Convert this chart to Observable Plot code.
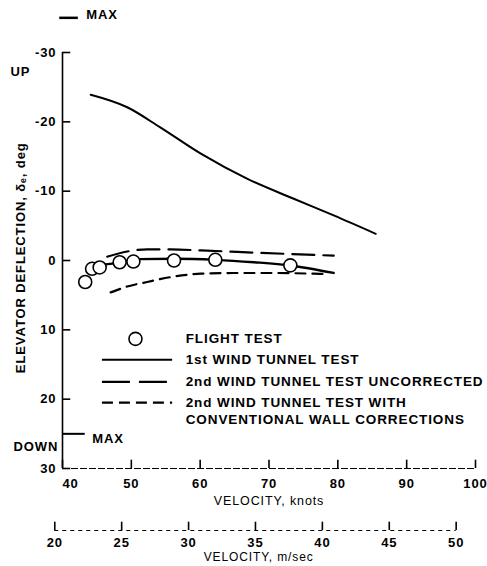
<!DOCTYPE html>
<html>
<head>
<meta charset="utf-8">
<script src="https://cdn.jsdelivr.net/npm/d3@7"></script>
<script src="https://cdn.jsdelivr.net/npm/@observablehq/plot@0.6"></script>
<style>
  html, body { margin: 0; padding: 0; background: white; }
</style>
</head>
<body>
<div id="chart"></div>
<script>
// ---- tick labels ----
const knotsTicks = [40, 50, 60, 70, 80, 90, 100];
const msTicks = [20, 25, 30, 35, 40, 45, 50];
const yTicks = [-30, -20, -10, 0, 10, 20, 30];
const KT_PER_MS = 1.94384;

// ---- series (velocity in knots, elevator deflection in deg; negative = up) ----
const wt1UpperV = [44.1, 49.4, 54.2, 60.1, 66.8, 73.6, 79.4, 85.5];
const wt1UpperD = [-23.9, -22.1, -19.2, -15.4, -11.8, -8.9, -6.5, -3.85];

const wt1LowerV = [45.8, 48.3, 51.3, 56.2, 62.2, 67.8, 73.1, 79.4];
const wt1LowerD = [0.6, 0.3, -0.2, -0.25, -0.1, 0.25, 0.72, 1.8];

const wt2UncV = [46.5, 49.4, 52.3, 55.7, 60.1, 68.8, 79.4];
const wt2UncD = [-0.55, -1.3, -1.6, -1.6, -1.45, -1.1, -0.7];

const wt2CorV = [47.0, 49.4, 52.3, 55.7, 60.1, 65.4, 70.7, 76.5, 78.5];
const wt2CorD = [4.6, 3.75, 3.1, 2.4, 1.9, 1.8, 1.8, 1.9, 1.95];

const flightV = [43.3, 44.3, 45.4, 48.3, 50.3, 56.2, 62.2, 73.1];
const flightD = [3.1, 1.2, 1.0, 0.25, 0.15, 0.0, -0.1, 0.7];

const maxUp = -35;
const maxDown = 25;

const legendLabels = [
  "FLIGHT TEST",
  "1st WIND TUNNEL TEST",
  "2nd WIND TUNNEL TEST UNCORRECTED",
  "2nd WIND TUNNEL TEST WITH",
  "CONVENTIONAL WALL CORRECTIONS"
];

const toRows = (vs, ds) => vs.map((v, i) => ({v, d: ds[i]}));
const wt1Upper = toRows(wt1UpperV, wt1UpperD);
const wt1Lower = toRows(wt1LowerV, wt1LowerD);
const wt2Unc = toRows(wt2UncV, wt2UncD);
const wt2Cor = toRows(wt2CorV, wt2CorD);
const flight = toRows(flightV, flightD);

const bold = {fontWeight: "bold", fontSize: 13, fill: "black"};
const legendText = {fontWeight: "bold", fontSize: 13.5, fill: "black", textAnchor: "start"};

// legend anchor positions (data coords)
const LX1 = 45.8, LX2 = 56.0, LXC = 50.6, LTX = 57.9;
const LY = [11.3, 14.3, 17.5, 20.5, 22.9];

const chart = Plot.plot({
  width: 487,
  height: 566,
  marginLeft: 62,
  marginRight: 12,
  marginTop: 52,
  marginBottom: 98,
  x: {domain: [40, 100], axis: null},
  y: {domain: [-30, 30], reverse: true, axis: null},
  style: {fontFamily: "'Liberation Sans', Arial, Helvetica, sans-serif", background: "white", color: "black", letterSpacing: "0.9px"},
  marks: [
    // y axis
    Plot.ruleX([40], {y1: -30, y2: 30, stroke: "black", strokeWidth: 1.6}),
    Plot.ruleY(yTicks, {y: d => d, x1: 40, x2: 41.2, stroke: "black", strokeWidth: 1.6}),
    Plot.text(yTicks, {x: 40, y: d => d, text: d => String(d), dx: -6, textAnchor: "end", ...bold}),
    Plot.text(["UP"], {x: 40, y: -27.2, text: d => d, dx: -52, textAnchor: "start", ...bold}),
    Plot.text(["DOWN"], {x: 40, y: 26.9, text: d => d, dx: -49, textAnchor: "start", ...bold}),
    Plot.text(["ELEVATOR DEFLECTION, δₑ, deg"], {x: 40, y: -0.4, text: d => d, dx: -42, rotate: -90, ...bold}),

    // MAX markers
    Plot.ruleY([maxUp], {x1: 39.6, x2: 42.3, stroke: "black", strokeWidth: 2.5}),
    Plot.text(["MAX"], {x: 42.3, y: maxUp, text: d => d, dx: 8, dy: -3, textAnchor: "start", ...bold}),
    Plot.ruleY([maxDown], {x1: 40, x2: 43.3, stroke: "black", strokeWidth: 2}),
    Plot.text(["MAX"], {x: 43.3, y: maxDown, text: d => d, dx: 7, dy: 5, textAnchor: "start", ...bold}),

    // knots axis
    Plot.ruleY([30], {x1: 40, x2: 100, stroke: "black", strokeWidth: 1, strokeDasharray: "7,2"}),
    Plot.ruleX(knotsTicks, {x: d => d, y1: 30, y2: 28.8, stroke: "black", strokeWidth: 1.6}),
    Plot.text(knotsTicks.slice(0, 1), {x: d => d, y: 30, text: d => String(d), dx: 8, dy: 15, ...bold}),
    Plot.text(knotsTicks.slice(1), {x: d => d, y: 30, text: d => String(d), dy: 15, ...bold}),
    Plot.text(["VELOCITY, knots"], {x: 70, y: 30, text: d => d, dy: 32, fontSize: 12.5, fill: "black"}),

    // m/s axis (same x scale, converted)
    Plot.ruleY([30], {x1: msTicks[0] * KT_PER_MS, x2: msTicks[msTicks.length - 1] * KT_PER_MS, dy: 62, stroke: "black", strokeWidth: 1, strokeDasharray: "4,4"}),
    Plot.ruleX(msTicks, {x: d => d * KT_PER_MS, y1: 30, y2: 28.8, dy: 62, stroke: "black", strokeWidth: 1.6}),
    Plot.text(msTicks, {x: d => d * KT_PER_MS, y: 30, text: d => String(d), dy: 74, ...bold}),
    Plot.text(["VELOCITY, m/sec"], {x: 68.5, y: 30, text: d => d, dy: 89, fontSize: 12, fill: "black"}),

    // data curves
    Plot.line(wt1Upper, {x: "v", y: "d", curve: "monotone-x", stroke: "black", strokeWidth: 2}),
    Plot.line(wt1Lower, {x: "v", y: "d", curve: "monotone-x", stroke: "black", strokeWidth: 2.3}),
    Plot.line(wt2Unc, {x: "v", y: "d", curve: "monotone-x", stroke: "black", strokeWidth: 2.2, strokeDasharray: "22,9"}),
    Plot.line(wt2Cor, {x: "v", y: "d", curve: "monotone-x", stroke: "black", strokeWidth: 2.2, strokeDasharray: "10,7"}),
    Plot.dot(flight, {x: "v", y: "d", r: 6.5, stroke: "black", fill: "white", strokeWidth: 1.6}),

    // legend
    Plot.dot([0], {x: LXC, y: LY[0], r: 6.5, stroke: "black", fill: "white", strokeWidth: 1.6}),
    Plot.ruleY([LY[1]], {x1: LX1, x2: LX2, stroke: "black", strokeWidth: 2}),
    Plot.ruleY([LY[2]], {x1: LX1, x2: LX2, stroke: "black", strokeWidth: 2.2, strokeDasharray: "28,9"}),
    Plot.ruleY([LY[3]], {x1: LX1, x2: LX2, stroke: "black", strokeWidth: 2.2, strokeDasharray: "11,6"}),
    Plot.text(legendLabels, {x: LTX, y: (d, i) => LY[i], text: d => d, ...legendText})
  ]
});

document.getElementById("chart").appendChild(chart);
</script>
</body>
</html>
